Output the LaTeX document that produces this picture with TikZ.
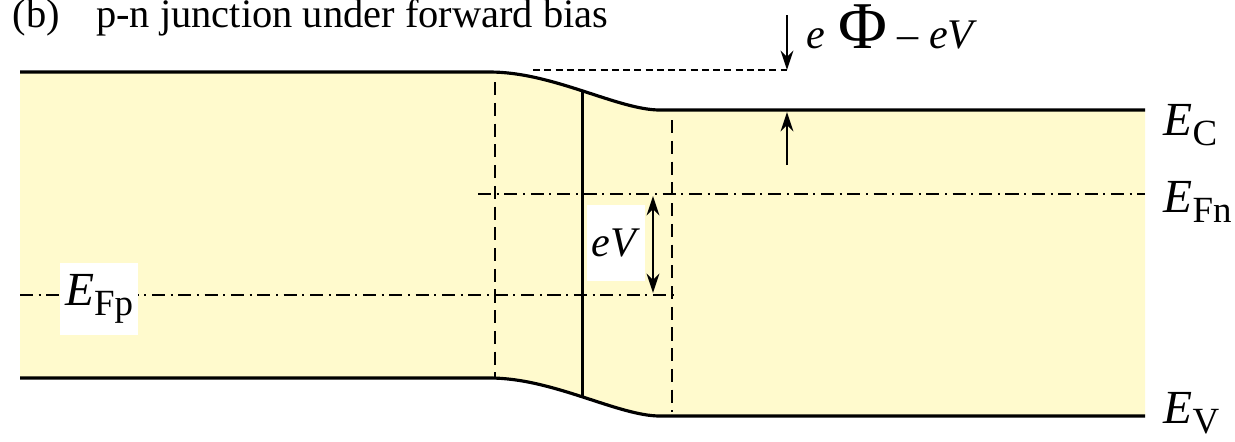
\documentclass[tikz,border=0pt]{standalone}
\usepackage{fontspec}
\setmainfont{Liberation Serif}
\usetikzlibrary{arrows.meta, positioning, calc}
\definecolor{bandfill}{RGB}{255,250,205}
\newcommand{\bandlabel}[1]{{\fontsize{13.5}{15}\selectfont\textit{E}}\raisebox{-3pt}{\fontsize{10.5}{12}\selectfont #1}}

\begin{document}
\begin{tikzpicture}[x=0.01cm, y=-0.01cm,
  band/.style={black, line width=0.9pt},
  guide/.style={black, line width=0.7pt, dash pattern=on 3.7pt off 2.2pt},
  shortdash/.style={black, line width=0.7pt, dash pattern=on 2pt off 1.2pt},
  fermi/.style={black, line width=0.7pt, dash pattern=on 3.7pt off 1.6pt on 0.6pt off 1.6pt},
  level/.style={anchor=base west, inner sep=0pt},
  tip/.style={-{Stealth[length=5.5pt,width=3.6pt]}, line width=0.7pt}]
  \useasboundingbox (0,0) rectangle (1235,441);
  % title
  \node[anchor=base west, inner sep=0pt, font=\fontsize{11.5}{13}\selectfont] (title) at (12,27)
    {(b)\hspace{0.9em}p-n junction under forward bias};
  % band region
  \fill[bandfill] (20,72) -- (490,72) .. controls (553,72) and (618,110) .. (660,110) -- (1145,110)
    -- (1145,416) -- (660,416) .. controls (618,416) and (553,378) .. (490,378) -- (20,378) -- cycle;
  \draw[band] (20,72) -- (490,72) .. controls (553,72) and (618,110) .. coordinate[pos=0.5] (cbmid) (660,110)
    -- (1145,110) coordinate (cbend);
  \draw[band] (20,378) -- (490,378) .. controls (553,378) and (618,416) .. coordinate[pos=0.5] (vbmid) (660,416)
    -- (1145,416) coordinate (vbend);
  \draw[band] (cbmid) -- (vbmid);
  % depletion edges
  \draw[guide] (495,82) -- (495,378);
  \draw[guide] (672,120) -- (672,412);
  % quasi Fermi levels
  \draw[fermi] (478,194) -- (1145,194) coordinate (fnend);
  \draw[fermi] (20,295) -- (678,295);
  \coordinate (fnpt) at (653,196);
  \coordinate (fppt) at (653,293);
  \draw[tip, {Stealth[length=5.5pt,width=3.6pt]}-{Stealth[length=5.5pt,width=3.6pt]}] (fnpt) -- (fppt);
  \node[fill=white, minimum width=0.57cm, minimum height=0.75cm, inner sep=0pt,
    font=\fontsize{12}{14}\selectfont] (ev) at (616,243) {\textit{eV}};
  \node[fill=white, minimum width=0.77cm, minimum height=0.72cm, inner sep=0pt] (efp) at (99,299)
    {\bandlabel{Fp}};
  % barrier height
  \coordinate (bartop) at (787,70);
  \coordinate (barbot) at (787,112);
  \draw[shortdash] (533,70) -- (bartop);
  \draw[tip] (787,15) -- (bartop);
  \draw[tip] (787,165) -- (barbot);
  \node[anchor=base west, inner sep=0pt, font=\fontsize{12}{14}\selectfont] (barrier) at (806,48)
    {\textit{e}\hspace{0.3em}{\fontsize{19}{20}\selectfont Φ}\hspace{0.25em}–\hspace{0.25em}\textit{eV}};
  % level labels
  \node[level] (ec) at (1163,135) {\bandlabel{C}};
  \node[level] (efn) at (1163,212) {\bandlabel{Fn}};
  \node[level] (ev2) at (1163,423) {\bandlabel{V}};
\end{tikzpicture}
\end{document}
